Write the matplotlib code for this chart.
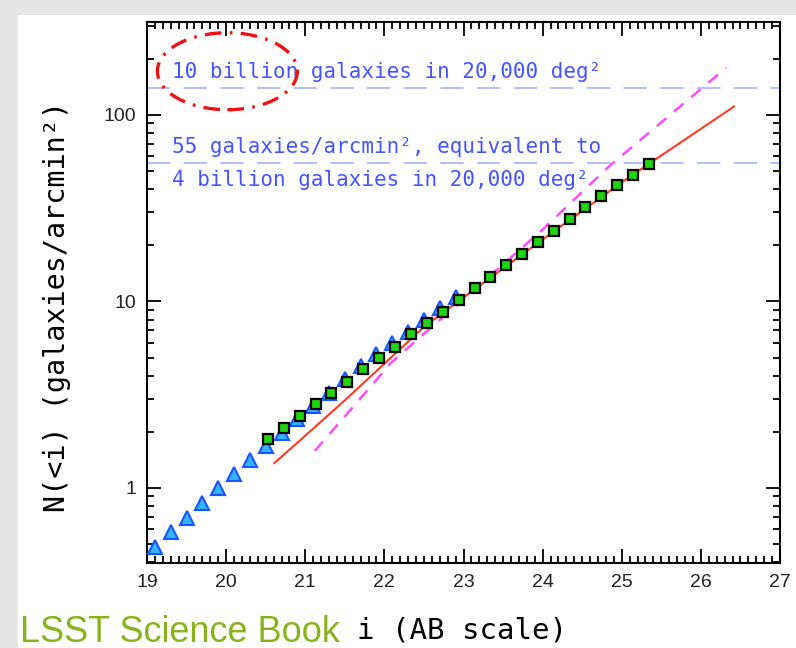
# galaxy number counts vs i magnitude, recreated
import numpy as np
import matplotlib
matplotlib.use("Agg")
import matplotlib.pyplot as plt
from matplotlib.patches import Ellipse, Rectangle
from matplotlib.ticker import MultipleLocator, LogLocator, NullFormatter, FixedLocator

# DATA
tri_mag = [19.1, 19.3, 19.5, 19.7, 19.9, 20.1, 20.3, 20.5, 20.7, 20.9,
           21.1, 21.3, 21.5, 21.7, 21.9, 22.1, 22.3, 22.5, 22.7, 22.9]
tri_counts = [0.48, 0.58, 0.69, 0.83, 1.0, 1.19, 1.41, 1.68, 1.97, 2.34,
              2.75, 3.23, 3.85, 4.5, 5.2, 6.0, 6.9, 8.0, 9.2, 10.6]

sq_mag = [20.53, 20.73, 20.93, 21.13, 21.33, 21.53, 21.73, 21.93, 22.14, 22.34,
          22.54, 22.74, 22.94, 23.14, 23.34, 23.54, 23.74, 23.94, 24.14, 24.34,
          24.54, 24.74, 24.94, 25.14, 25.34]
sq_counts = [1.83, 2.10, 2.43, 2.82, 3.23, 3.70, 4.35, 4.98, 5.70, 6.65,
             7.67, 8.79, 10.2, 11.8, 13.5, 15.7, 18.0, 20.9, 23.9, 27.7,
             32.1, 36.8, 42.2, 47.7, 54.6]

red_mag = [20.61, 20.94, 21.5, 22.16, 22.5, 23.0, 24.0, 25.0, 25.34, 26.42]
red_counts = [1.36, 1.81, 2.95, 5.36, 7.3, 10.5, 21.5, 43.5, 54.6, 111.0]

pink_mag = [21.12, 21.5, 21.9, 22.08, 23.13, 24.0, 24.86, 26.32]
pink_counts = [1.58, 2.42, 3.8, 4.68, 11.5, 24.3, 54.0, 179.0]

# 10 billion / 20,000 deg^2 and 55 per arcmin^2
level_counts = [138.9, 55.0]

x_ticks = [19, 20, 21, 22, 23, 24, 25, 26, 27]
y_ticks = [1, 10, 100]
y_ticklabels = ["1", "10", "100"]

notes = ["10 billion galaxies in 20,000 deg\u00b2",
         "55 galaxies/arcmin\u00b2, equivalent to",
         "4 billion galaxies in 20,000 deg\u00b2"]


def main():
    fig = plt.figure(figsize=(7.96, 6.48), dpi=100, facecolor="#e6e6e6")
    # white page area, gray strip top and left
    fig.patches.append(Rectangle((18 / 796, 0), 1, 1 - 15 / 648,
                                 transform=fig.transFigure, facecolor="white",
                                 edgecolor="none", zorder=-10))

    ax = fig.add_axes([147 / 796, 1 - 563 / 648, 633 / 796, 541 / 648])
    ax.set_yscale("log")
    ax.set_xlim(19, 27)
    ax.set_ylim(0.396, 315)

    # horizontal reference levels
    for lv in level_counts:
        ax.axhline(lv, color="#a9b2ff", lw=1.2, dashes=(14, 8), zorder=1)

    ax.plot(pink_mag, pink_counts, color="#ff4cff", lw=1.8, dashes=(5, 4), zorder=2)
    ax.plot(red_mag, red_counts, color="#ff3a22", lw=1.5, zorder=3)

    ax.plot(tri_mag, tri_counts, linestyle="none", marker="^", markersize=10,
            markerfacecolor="#33b4ff", markeredgecolor="#1a55ff",
            markeredgewidth=1.5, zorder=4)
    ax.plot(sq_mag, sq_counts, linestyle="none", marker="s", markersize=6.8,
            markerfacecolor="#1ed40c", markeredgecolor="black",
            markeredgewidth=1.6, zorder=5)

    # annotation text
    ys = [0.9076, 0.769, 0.708]
    for t, yy in zip(notes, ys):
        ax.text(0.04, yy, t, transform=ax.transAxes, color="#4455ff",
                fontsize=15, family="DejaVu Sans Mono", va="center", ha="left")

    # red dash-dot circle round the first note
    ell = Ellipse((0.127, 0.909), 140 / 633, 77 / 541, transform=ax.transAxes,
                  fill=False, edgecolor="#ee1111", lw=2.4,
                  linestyle=(0, (5, 2.5, 0.8, 2.5)), clip_on=False, zorder=6)
    ax.add_patch(ell)

    # ticks
    ax.xaxis.set_major_locator(FixedLocator(x_ticks))
    ax.xaxis.set_minor_locator(MultipleLocator(0.1))
    ax.yaxis.set_major_locator(FixedLocator(y_ticks))
    ax.set_yticklabels(y_ticklabels)
    ax.yaxis.set_minor_locator(LogLocator(base=10, subs=np.arange(2, 10)))
    ax.yaxis.set_minor_formatter(NullFormatter())
    ax.tick_params(which="both", direction="in", top=True, right=True,
                   color="black", width=1.3)
    ax.tick_params(which="major", length=10, labelsize=14, pad=8)
    ax.tick_params(which="minor", length=5)
    for lab in ax.get_xticklabels() + ax.get_yticklabels():
        lab.set_family("Liberation Sans")
        lab.set_color("#222222")
    for s in ax.spines.values():
        s.set_linewidth(1.5)

    # axis titles (wide spaced font like the original)
    fig.text(57 / 796, 1 - 306 / 648, "N(<i) (galaxies/arcmin\u00b2)",
             fontsize=20.5, family="DejaVu Sans Mono", rotation=90,
             ha="center", va="center")
    fig.text(462 / 796, 1 - 630 / 648, "i (AB scale)", fontsize=21,
             family="DejaVu Sans Mono", ha="center", va="center")
    fig.text(20 / 796, 1 - 632 / 648, "LSST Science Book", fontsize=26,
             family="Liberation Sans", color="#8ab21d", ha="left", va="center")

    fig.savefig("out.png", dpi=100, facecolor=fig.get_facecolor())


if __name__ == "__main__":
    main()
